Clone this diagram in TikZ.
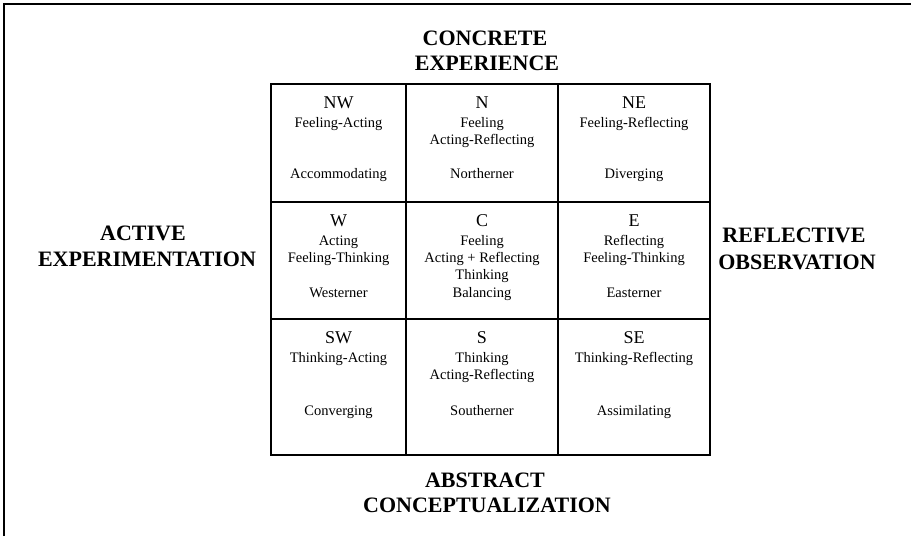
\documentclass[tikz,border=0pt]{standalone}
\usepackage{fontspec}
\setmainfont{Liberation Serif}
\usetikzlibrary{positioning}
\tikzset{
  axislabel/.style={font=\bfseries\fontsize{22}{22}\selectfont,anchor=base,inner sep=0pt},
  cellhead/.style={font=\fontsize{18}{18}\selectfont,anchor=base,inner sep=0pt},
  cellrole/.style={font=\fontsize{14.5}{15}\selectfont,anchor=base,inner sep=0pt},
  gridline/.style={line width=1.6pt},
}
\begin{document}
\begin{tikzpicture}[x=1pt,y=-1pt]
    \useasboundingbox (0,0) rectangle (911,536);
    % frame
    \path[draw,line width=2pt](3.5,536) -- (3.5,3.5) -- (911,3.5);

    % axis labels
    \node[axislabel] (concrete) at (485,45) {CONCRETE};
    \node[axislabel] (experience) at (487,70) {EXPERIENCE};
    \node[axislabel] (active) at (143,240) {ACTIVE};
    \node[axislabel] (experimentation) at (147,266) {EXPERIMENTATION};
    \node[axislabel] (reflective) at (794,242) {REFLECTIVE};
    \node[axislabel] (observation) at (797,269) {OBSERVATION};
    \node[axislabel] (abstract) at (485,487) {ABSTRACT};
    \node[axislabel] (conceptualization) at (487,512) {CONCEPTUALIZATION};

    % grid
    \path[draw,gridline](271,84) rectangle (710,455);
    \path[draw,gridline](406,84) -- (406,455);
    \path[draw,gridline](558,84) -- (558,455);
    \path[draw,gridline](271,202) -- (710,202);
    \path[draw,gridline](271,319) -- (710,319);

    % row 1
    \node[cellhead] (nwhead) at (338.5,108.5) {NW};
    \node[cellrole] (nwrole) at (338.5,127) {Feeling-Acting};
    \node[cellrole] (nwname) at (338.5,178.5) {Accommodating};
    \node[cellhead] (nhead) at (482,108.5) {N};
    \node[cellrole] (nroleone) at (482,127) {Feeling};
    \node[cellrole] (nroletwo) at (482,144.5) {Acting-Reflecting};
    \node[cellrole] (nname) at (482,178.5) {Northerner};
    \node[cellhead] (nehead) at (634,108.5) {NE};
    \node[cellrole] (nerole) at (634,127) {Feeling-Reflecting};
    \node[cellrole] (nename) at (634,178.5) {Diverging};

    % row 2
    \node[cellhead] (whead) at (338.5,226.5) {W};
    \node[cellrole] (wroleone) at (338.5,245) {Acting};
    \node[cellrole] (wroletwo) at (338.5,262.5) {Feeling-Thinking};
    \node[cellrole] (wname) at (338.5,297) {Westerner};
    \node[cellhead] (chead) at (482,226.5) {C};
    \node[cellrole] (croleone) at (482,245) {Feeling};
    \node[cellrole] (croletwo) at (482,262.5) {Acting + Reflecting};
    \node[cellrole] (crolethree) at (482,279) {Thinking};
    \node[cellrole] (cname) at (482,297) {Balancing};
    \node[cellhead] (ehead) at (634,226.5) {E};
    \node[cellrole] (eroleone) at (634,245) {Reflecting};
    \node[cellrole] (eroletwo) at (634,262.5) {Feeling-Thinking};
    \node[cellrole] (ename) at (634,297) {Easterner};

    % row 3
    \node[cellhead] (swhead) at (338.5,343.5) {SW};
    \node[cellrole] (swrole) at (338.5,362) {Thinking-Acting};
    \node[cellrole] (swname) at (338.5,415) {Converging};
    \node[cellhead] (shead) at (482,343.5) {S};
    \node[cellrole] (sroleone) at (482,362) {Thinking};
    \node[cellrole] (sroletwo) at (482,379.5) {Acting-Reflecting};
    \node[cellrole] (sname) at (482,415) {Southerner};
    \node[cellhead] (sehead) at (634,343.5) {SE};
    \node[cellrole] (serole) at (634,362) {Thinking-Reflecting};
    \node[cellrole] (sename) at (634,415) {Assimilating};
\end{tikzpicture}
\end{document}
